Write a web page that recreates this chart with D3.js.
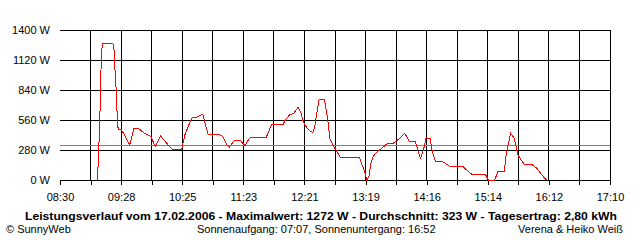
<!DOCTYPE html>
<html>
<head>
<meta charset="utf-8">
<script src="https://cdn.jsdelivr.net/npm/d3@7"></script>
<style>
  body { margin: 0; background: #fff; }
  svg text { font-family: Arial, "Liberation Sans", sans-serif; font-size: 11px; fill: #000; }
</style>
</head>
<body>
<div id="chart"></div>
<script>
// DATA
const times = ["09:05","09:06","09:07","09:08","09:09","09:10","09:20","09:21","09:22","09:23","09:24","09:25","09:28","09:30","09:36","09:40","09:44","09:50","09:56","10:00",
  "10:05","10:11","10:16","10:25","10:28","10:33","10:35","10:39","10:45","10:48","10:50","11:00","11:04","11:08","11:10","11:15","11:20","11:23","11:25","11:27",
  "11:30","11:45","11:48","11:50","12:01","12:03","12:07","12:11","12:15","12:18","12:20","12:23","12:26","12:29","12:31","12:33","12:35","12:40","12:42","12:44",
  "12:45","12:48","12:51","12:55","13:13","13:18","13:20","13:22","13:24","13:26","13:29","13:34","13:39","13:40","13:45","13:50","13:56","14:00","14:06","14:09",
  "14:11","14:14","14:16","14:20","14:22","14:25","14:31","14:39","14:51","14:59","15:12","15:15","15:21","15:24","15:30","15:32","15:36","15:39","15:41","15:43",
  "15:46","15:49","15:56","16:01","16:04","16:07","16:10"];
const watts = [0,130,380,700,1130,1272,1272,1229,1030,860,620,467,467,436,327,482,482,436,404,311,
  411,342,286,286,420,544,585,585,613,498,429,429,404,327,305,373,373,342,317,358,
  398,398,467,520,520,560,607,622,678,622,544,492,460,442,504,638,753,753,638,498,
  389,327,280,211,211,78,0,31,156,218,255,295,336,342,342,380,436,364,358,255,
  202,295,389,389,264,177,177,124,124,56,56,0,0,78,78,250,436,398,327,233,
  187,146,146,109,68,31,0];

const xLabels = ["08:30","09:28","10:25","11:23","12:21","13:19","14:16","15:14","16:12","17:10"];
const yTicks = [0, 280, 560, 840, 1120, 1400];
const average = 323;

const title = "Leistungsverlauf vom 17.02.2006 - Maximalwert: 1272 W - Durchschnitt: 323 W - Tagesertrag: 2,80 kWh";
const footLeft = "\u00A9 SunnyWeb";
const footMid = "Sonnenaufgang: 07:07, Sonnenuntergang: 16:52";
const footRight = "Verena & Heiko Wei\u00DF";

// helpers
const toMin = s => { const [h, m] = s.split(":").map(Number); return h * 60 + m; };
const data = times.map((t, i) => ({ t: toMin(t), w: watts[i] }));

const width = 640, height = 240;
const t0 = toMin(xLabels[0]), t1 = toMin(xLabels[xLabels.length - 1]);

// SCALES
const x = d3.scaleLinear().domain([t0, t1]).range([60, 610]);
const y = d3.scaleLinear().domain([0, 1400]).range([180, 30]);

// tick every half label step
const step = (t1 - t0) / (xLabels.length - 1);
const xTicks = d3.range(0, (xLabels.length - 1) * 2 + 1).map(k => t0 + k * step / 2);

const svg = d3.select("#chart").append("svg")
  .attr("width", width)
  .attr("height", height);

const grid = svg.append("g").attr("shape-rendering", "crispEdges");

// horizontal grid lines
grid.selectAll("line.h")
  .data(yTicks)
  .join("line")
  .attr("class", "h")
  .attr("x1", x(t0)).attr("x2", x(t1))
  .attr("y1", d => y(d)).attr("y2", d => y(d))
  .attr("stroke", "#000");

// vertical grid lines (first one is only a tick)
grid.selectAll("line.v")
  .data(xTicks.slice(1))
  .join("line")
  .attr("class", "v")
  .attr("x1", d => x(d)).attr("x2", d => x(d))
  .attr("y1", y(1400)).attr("y2", y(0))
  .attr("stroke", "#000");

// average line
grid.append("line")
  .attr("x1", x(t0)).attr("x2", x(t1))
  .attr("y1", y(average)).attr("y2", y(average))
  .attr("stroke", "#808080");

// AXES
const xAxis = d3.axisBottom(x)
  .tickValues(xTicks)
  .tickSize(5)
  .tickPadding(8)
  .tickFormat((d, i) => i % 2 ? "" : xLabels[i / 2]);

svg.append("g")
  .attr("transform", `translate(0,${y(0)})`)
  .attr("shape-rendering", "crispEdges")
  .call(xAxis)
  .call(g => g.select(".domain").remove())
  .call(g => g.selectAll("line").attr("stroke", "#000"))
  .call(g => g.selectAll("text").attr("font-size", null).attr("font-family", null));

const yAxis = d3.axisLeft(y)
  .tickValues(yTicks)
  .tickSize(0)
  .tickPadding(10)
  .tickFormat(d => d + " W");

svg.append("g")
  .attr("transform", `translate(${x(t0)},0)`)
  .call(yAxis)
  .call(g => g.select(".domain").remove())
  .call(g => g.selectAll("text").attr("font-size", null).attr("font-family", null));

// LINE
const line = d3.line().x(d => x(d.t)).y(d => y(d.w));
svg.append("path")
  .datum(data)
  .attr("d", line)
  .attr("fill", "none")
  .attr("stroke", "#ff0000")
  .attr("stroke-width", 1)
  .attr("shape-rendering", "crispEdges");

// TEXTS
svg.append("text")
  .attr("x", 321).attr("y", 220)
  .attr("text-anchor", "middle")
  .attr("font-weight", "bold")
  .attr("textLength", 592)
  .attr("lengthAdjust", "spacingAndGlyphs")
  .text(title);

svg.append("text").attr("x", 6).attr("y", 233).text(footLeft);
svg.append("text").attr("x", 197).attr("y", 233).text(footMid);
svg.append("text").attr("x", 623).attr("y", 233).attr("text-anchor", "end").text(footRight);
</script>
</body>
</html>
